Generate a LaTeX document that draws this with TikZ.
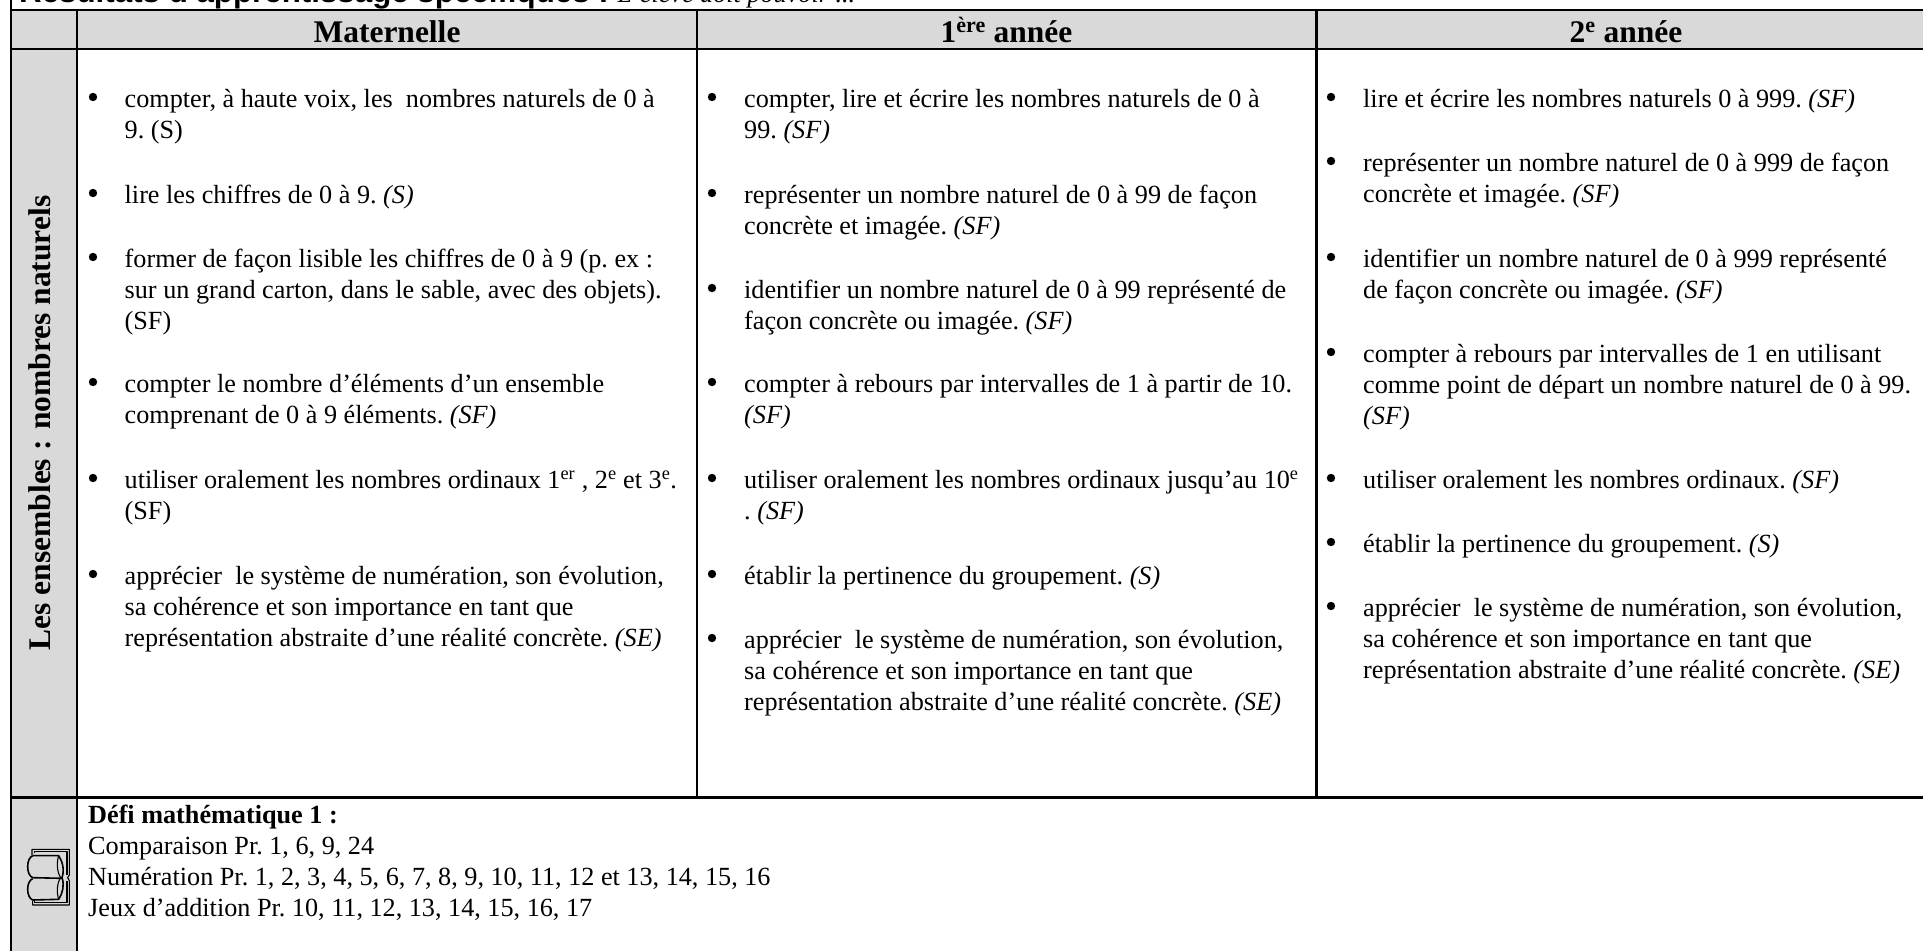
\documentclass[tikz,border=0pt]{standalone}
\usepackage{fontspec}
\setmainfont{Liberation Serif}
\setsansfont{Liberation Sans}
\definecolor{hdr}{RGB}{217,217,217}
\newcommand{\SF}[1]{\textit{(#1)}}
\newcommand{\sut}[1]{\textsuperscript{#1}}
\newcommand{\itm}[4]{\node[itemtext] at (#2,#3-25) {\rule{0pt}{25pt}#4};\fill (#1,#3-10) circle (4.2);}
\tikzset{
  x=1pt,y=-1pt,
  rule/.style={line width=2.2pt,black},
  itemtext/.style={anchor=north west,align=left,inner sep=0pt,font=\frenchspacing\fontsize{26.2}{31}\selectfont},
  head/.style={font=\bfseries\fontsize{31.5}{34}\selectfont,inner sep=0pt,anchor=base},
  book/.style={line width=1.1pt,black}
}
\begin{document}
\begin{tikzpicture}
\useasboundingbox (0,0) rectangle (1923,951);
\fill[hdr] (11,10) rectangle (1923,49);
\fill[hdr] (11,49) rectangle (77,951);
\draw[rule] (11,0) -- (11,951);
\draw[rule] (11,10) -- (1923,10);
\draw[rule] (11,49) -- (1923,49);
\draw[rule] (77,10) -- (77,951);
\draw[rule] (697,10) -- (697,797.5);
\draw[rule] (1316.5,10) -- (1316.5,797.5);
\draw[rule] (11,797.5) -- (1923,797.5);
\node[anchor=base west,inner sep=0pt,font=\frenchspacing\sffamily\bfseries\fontsize{31.3}{34}\selectfont] (title) at (19,2) {Résultats d’apprentissage spécifiques :\ {\rmfamily\mdseries\itshape\fontsize{26.2}{31}\selectfont L’élève doit pouvoir ...}};
\node[head] (h1) at (387,42) {Maternelle};
\node[head] (h2) at (1006.5,42) {1\sut{ère} année};
\node[head] (h3) at (1626,42) {2\sut{e} année};
\node[rotate=90,anchor=base,font=\bfseries\fontsize{31.5}{34}\selectfont,inner sep=0pt] (side) at (50,423) {Les ensembles : nombres naturels};
\itm{93}{124.5}{107}{compter, à haute voix, les\ \ nombres naturels de 0 à\\9. (S)}
\itm{93}{124.5}{203}{lire les chiffres de 0 à 9. \SF{S}}
\itm{93}{124.5}{267}{former de façon lisible les chiffres de 0 à 9 (p. ex :\\sur un grand carton, dans le sable, avec des objets).\\(SF)}
\itm{93}{124.5}{392}{compter le nombre d’éléments d’un ensemble\\comprenant de 0 à 9 éléments. \SF{SF}}
\itm{93}{124.5}{488}{utiliser oralement les nombres ordinaux 1\sut{er} , 2\sut{e} et 3\sut{e}.\\(SF)}
\itm{93}{124.5}{584}{apprécier\ \ le système de numération, son évolution,\\sa cohérence et son importance en tant que\\représentation abstraite d’une réalité concrète. \SF{SE}}
\itm{712}{744}{107}{compter, lire et écrire les nombres naturels de 0 à\\99. \SF{SF}}
\itm{712}{744}{203}{représenter un nombre naturel de 0 à 99 de façon\\concrète et imagée. \SF{SF}}
\itm{712}{744}{298}{identifier un nombre naturel de 0 à 99 représenté de\\façon concrète ou imagée. \SF{SF}}
\itm{712}{744}{392}{compter à rebours par intervalles de 1 à partir de 10.\\\SF{SF}}
\itm{712}{744}{488}{utiliser oralement les nombres ordinaux jusqu'au 10\sut{e}\\. \SF{SF}}
\itm{712}{744}{584}{établir la pertinence du groupement. \SF{S}}
\itm{712}{744}{648}{apprécier\ \ le système de numération, son évolution,\\sa cohérence et son importance en tant que\\représentation abstraite d’une réalité concrète. \SF{SE}}
\itm{1331}{1363}{107}{lire et écrire les nombres naturels 0 à 999. \SF{SF}}
\itm{1331}{1363}{171}{représenter un nombre naturel de 0 à 999 de façon\\concrète et imagée. \SF{SF}}
\itm{1331}{1363}{267}{identifier un nombre naturel de 0 à 999 représenté\\de façon concrète ou imagée. \SF{SF}}
\itm{1331}{1363}{362}{compter à rebours par intervalles de 1 en utilisant\\comme point de départ un nombre naturel de 0 à 99.\\\SF{SF}}
\itm{1331}{1363}{488}{utiliser oralement les nombres ordinaux. \SF{SF}}
\itm{1331}{1363}{552}{établir la pertinence du groupement. \SF{S}}
\itm{1331}{1363}{616}{apprécier\ \ le système de numération, son évolution,\\sa cohérence et son importance en tant que\\représentation abstraite d’une réalité concrète. \SF{SE}}
\node[itemtext] (defi) at (88,798) {\rule{0pt}{25pt}\textbf{Défi mathématique 1 :}\\Comparaison Pr. 1, 6, 9, 24\\Numération Pr. 1, 2, 3, 4, 5, 6, 7, 8, 9, 10, 11, 12 et 13, 14, 15, 16\\Jeux d’addition Pr. 10, 11, 12, 13, 14, 15, 16, 17};
% book icon, in crop coordinates
\begin{scope}[shift={(12,790)},x=0.3333pt,y=-0.3333pt,book,line join=round]
\draw (60,195) -- (60,178) -- (172,178) -- (172,255) -- (167,263) -- (172,272) -- (172,345) -- (62,345) -- (62,332);
\draw (68,190) -- (68,184) -- (165,184) -- (165,255) (165,272) -- (165,338) -- (68,338) -- (68,332);
\draw[line width=1.6pt] (62,197) -- (140,197) .. controls (152,215) and (158,240) .. (150,263) .. controls (158,285) and (152,310) .. (140,328) -- (62,330);
\draw[line width=1.6pt] (62,197) .. controls (42,205) and (42,255) .. (62,263) -- (150,265);
\draw[line width=1.6pt] (62,266) .. controls (42,274) and (42,322) .. (62,330);
\draw (140,197) .. controls (134,215) and (134,245) .. (146,263) .. controls (134,280) and (134,310) .. (140,328);
\end{scope}
\end{tikzpicture}
\end{document}
